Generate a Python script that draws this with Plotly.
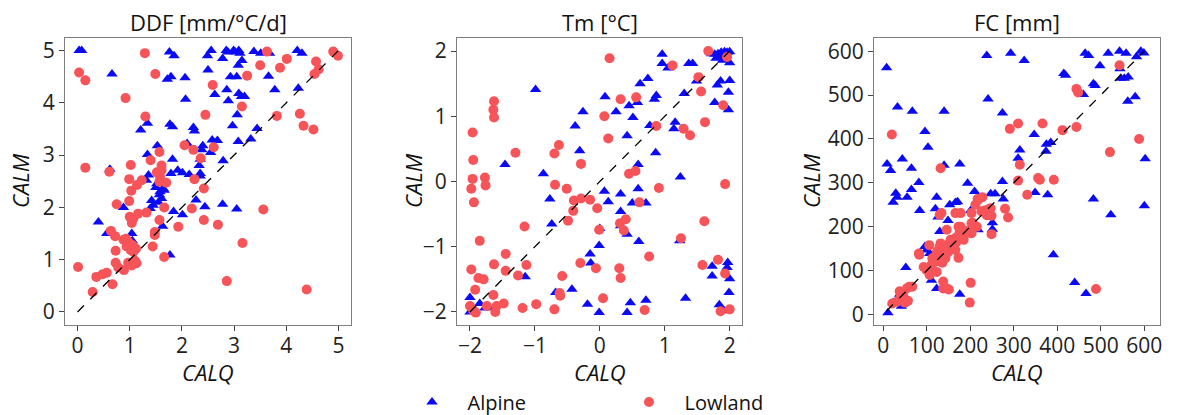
import plotly.graph_objects as go

# ---------------- data ----------------
ddf_alp_x = [0.03,0.08,0.66,1.76,1.85,1.72,1.79,2.06,2.07,1.21,1.34,1.77,1.82,2.22,2.24,1.53,1.34,1.82,2.10,2.40,2.38,2.58,2.68,2.55,2.35,2.79,1.36,1.79,1.92,2.01,2.14,2.33,2.35,2.35,0.62,2.49,2.56,2.50,2.78,2.85,2.88,2.99,3.02,3.09,3.11,3.08,3.15,2.93,3.05,2.86,2.89,3.09,3.14,3.20,2.63,3.06,2.97,3.08,3.32,3.44,3.38,3.51,3.68,3.66,3.78,4.21,4.30,4.23,
             0.40,0.56,0.88,1.04,1.05,1.42,1.45,1.39,1.50,1.57,1.64,1.58,1.66,1.61,1.84,2.01,1.63,1.77,2.27,2.44,2.78,3.05,1.32,1.52,1.55]
ddf_alp_y = [5.00,5.00,4.55,4.97,4.90,4.45,4.50,4.48,4.07,3.48,3.61,3.59,3.54,3.53,3.46,3.18,3.01,2.92,3.22,3.18,3.10,3.29,3.28,3.05,2.92,2.89,2.62,2.65,2.71,2.66,2.63,2.80,2.65,2.60,2.73,4.90,5.00,4.63,4.85,5.00,4.97,5.00,4.97,5.00,4.95,4.72,4.81,4.50,4.50,4.25,4.04,4.18,4.12,4.12,4.16,3.77,3.56,3.26,3.31,3.51,4.98,4.95,4.95,4.51,4.25,5.00,4.95,4.28,
             1.72,1.50,2.00,1.50,1.36,2.13,2.04,1.98,2.38,2.24,2.36,2.30,2.33,2.17,1.92,1.86,1.64,1.09,2.14,2.01,2.06,1.97,2.52,2.45,2.10]
ddf_low_x = [0.03,0.15,1.29,1.49,0.92,1.30,0.15,0.61,1.02,0.99,1.03,1.14,1.23,1.40,1.57,1.61,1.61,1.52,1.58,1.57,1.70,2.24,2.42,2.05,2.22,2.36,2.45,2.59,2.61,3.15,3.25,3.50,3.63,3.88,4.01,3.82,4.26,4.33,4.52,4.54,4.57,4.62,4.90,4.99,
             0.01,0.36,0.48,0.56,0.29,0.67,0.64,0.72,0.75,0.73,0.73,0.78,0.89,0.93,0.97,0.94,1.02,0.97,1.04,1.13,1.12,1.07,1.00,1.04,1.07,1.16,1.32,0.99,1.44,1.48,1.48,1.57,1.66,1.66,1.93,2.19,2.42,2.69,3.16,2.86,3.56,4.39,0.88,1.05,1.10]
ddf_low_y = [4.58,4.43,4.95,4.55,4.09,3.74,2.76,2.68,2.81,2.54,2.32,2.43,2.52,2.90,3.06,2.80,2.71,2.67,2.59,2.49,2.47,2.54,2.36,3.19,3.10,2.94,3.77,4.34,3.15,3.93,4.52,4.72,4.98,4.67,4.84,3.75,3.79,3.56,3.49,4.55,4.79,4.64,4.98,4.90,
             0.86,0.67,0.72,0.75,0.38,0.53,1.55,1.45,2.06,1.17,0.94,0.85,0.80,1.40,1.34,1.25,1.18,0.94,0.89,0.93,1.21,1.15,1.82,1.70,1.79,1.88,1.90,2.12,1.25,1.47,1.53,1.76,2.00,1.05,1.63,1.98,1.76,1.67,1.32,0.59,1.96,0.43,1.38,1.28,0.98]

tm_alp_x = [-0.99,-1.46,-0.87,-0.38,-0.31,-0.26,0.08,0.25,0.45,0.51,0.42,0.58,0.62,0.74,0.77,0.59,0.86,0.84,0.87,0.96,0.96,1.05,1.16,1.14,1.24,1.30,1.37,1.43,1.49,1.72,1.77,1.82,1.87,1.92,1.96,2.00,1.79,1.89,2.00,2.00,1.98,1.98,1.81,1.86,1.77,1.85,1.94,
            0.07,0.13,0.32,0.59,0.50,0.71,-0.77,-0.74,0.32,0.32,0.42,0.00,-0.01,-0.15,-0.14,0.60,1.23,-1.15,-0.68,-0.43,-0.19,-0.01,0.42,0.47,0.71,1.32,-2.00,-1.85,-1.77,-1.71,-2.00,1.73,1.73,1.84,1.91,1.97,1.96,2.00,1.99]
tm_alp_y = [1.41,0.26,0.12,0.85,0.47,1.07,1.30,1.07,1.16,0.98,0.70,1.21,1.50,1.58,0.86,0.26,0.44,1.26,1.32,1.95,1.81,1.74,0.91,0.81,0.07,1.35,1.81,1.81,1.54,1.96,1.95,1.96,1.98,1.99,1.98,1.99,1.89,1.86,1.82,1.55,1.37,1.10,1.48,1.54,1.21,1.93,1.92,
            -0.15,-0.31,-0.19,-0.11,-0.33,-0.33,-0.27,-0.65,-0.46,-0.68,-0.81,-0.72,-0.98,-1.11,-1.25,-0.92,-0.91,-1.46,-1.70,-1.65,-1.88,-2.01,-2.01,-1.86,-1.82,-1.79,-1.78,-1.87,-1.94,-1.93,-2.00,-1.30,-1.45,-1.89,-1.98,-1.24,-1.32,-1.49,-1.70]
tm_low_x = [-1.96,-1.95,-1.96,-1.98,-1.63,-1.64,-1.63,-1.77,-1.76,-1.30,-0.70,-0.63,-0.69,-0.51,-0.29,0.15,0.07,0.13,0.32,0.56,0.45,0.55,0.91,0.87,1.12,1.29,1.39,1.62,1.52,1.56,1.67,1.96,1.90,1.93,
            -1.94,-1.85,-1.98,-1.92,-1.87,-1.79,-1.63,-1.64,-1.45,-1.45,-1.48,-1.59,-1.61,-1.74,-2.00,-1.95,-1.91,-1.26,-1.16,-1.13,-1.19,-0.98,-0.70,-0.61,-0.62,-0.58,-0.49,-0.41,-0.40,-0.29,-0.15,-0.04,-0.01,-0.30,-0.06,0.05,0.30,0.32,0.31,0.40,0.37,0.61,0.76,0.69,1.61,1.25,1.58,1.82,1.93,1.86,2.00]
tm_low_y = [0.75,0.33,0.04,-0.11,1.23,1.10,0.98,0.06,-0.06,0.44,0.43,0.56,-0.05,-0.11,0.27,1.89,1.00,0.66,1.26,1.29,0.12,0.16,-0.10,0.85,1.78,0.81,0.71,0.91,1.60,1.38,2.00,1.91,1.17,-0.04,
            -0.32,-0.91,-1.35,-1.66,-1.48,-1.50,-1.27,-1.74,-1.11,-1.37,-1.87,-1.91,-2.00,-1.91,-1.91,-1.98,-2.01,-1.44,-0.69,-1.28,-1.94,-1.88,-1.96,-1.75,-1.71,-1.45,-0.60,-0.45,-0.29,-0.26,-0.28,-0.41,-0.74,-1.25,-1.33,-1.79,-1.33,-1.48,-0.64,-0.58,-0.75,-0.32,-1.15,-1.97,-0.61,-0.87,-1.28,-1.20,-1.41,-1.99,-1.96]

fc_alp_x = [8,9,17,33,44,67,65,96,103,82,140,140,176,238,241,293,324,274,314,310,347,375,385,374,415,419,460,464,472,483,487,498,517,543,558,544,546,554,563,562,579,582,592,599,602,
            29,32,23,55,65,84,123,120,126,130,153,166,171,149,194,210,201,247,257,276,274,251,251,218,96,100,107,111,123,52,38,23,11,42,176,349,378,391,440,466,483,523,600]
fc_alp_y = [562,343,328,473,354,463,333,417,381,301,463,340,343,590,491,595,579,459,375,356,410,388,392,372,549,545,501,595,590,526,522,567,595,600,595,560,538,538,541,486,496,587,600,596,355,
            276,267,256,267,285,237,267,241,222,189,250,255,257,214,299,280,237,275,275,263,303,209,194,193,155,147,139,78,59,107,46,27,4,19,46,278,273,136,73,48,263,227,248]
fc_low_x = [20,132,291,310,366,314,310,356,392,412,444,448,444,521,543,588,331,217,228,
            38,46,57,50,32,21,60,67,83,106,100,107,123,115,113,126,136,130,134,138,146,138,146,153,161,166,169,173,173,166,178,180,203,203,203,215,218,226,234,241,249,238,249,280,287,360,489,201,199,146,130,123,93,105,82,132,140,124,136,143,150,166,155,212,247,243,205,212,200,178,151,55,40,185,190,120,158,175,110,145]
fc_low_y = [410,333,423,435,435,341,305,311,307,420,514,506,427,370,568,400,273,263,267,
            53,44,31,27,29,25,63,63,136,158,101,90,97,118,128,132,118,227,231,75,59,59,158,147,162,174,166,129,200,231,231,181,231,208,185,200,261,235,237,239,225,226,183,241,221,307,58,72,27,193,155,139,108,100,139,162,147,144,136,128,143,147,170,250,242,227,209,201,186,200,57,60,40,170,190,120,155,185,112,138]

panel_titles = ["DDF [mm/°C/d]", "Tm [°C]", "FC [mm]"]
line_ends = [(0, 5), (-2, 2), (8, 600)]
x_ranges = [(-0.24, 5.24), (-2.2, 2.19), (-21, 636)]
y_ranges = [(-0.25, 5.24), (-2.2, 2.2), (-24, 630)]
tick_vals = [[0, 1, 2, 3, 4, 5], [-2, -1, 0, 1, 2], [0, 100, 200, 300, 400, 500, 600]]

# ---------------- figure ----------------
W, H = 1181, 415
BLUE = "#0a0af5"
RED = "#f7545a"
FONT = "Open Sans"

panels = [
    (ddf_alp_x, ddf_alp_y, ddf_low_x, ddf_low_y),
    (tm_alp_x, tm_alp_y, tm_low_x, tm_low_y),
    (fc_alp_x, fc_alp_y, fc_low_x, fc_low_y),
]
x_px = [(65, 351), (457, 742), (874, 1160)]
y_px = (38, 325)

fig = go.Figure()
for i, (ax_, ay_, lx_, ly_) in enumerate(panels):
    xa = "x" if i == 0 else f"x{i+1}"
    ya = "y" if i == 0 else f"y{i+1}"
    fig.add_trace(go.Scatter(x=ax_, y=ay_, mode="markers", xaxis=xa, yaxis=ya,
                             name="\u00a0\u00a0\u00a0Alpine", legendgroup="a", showlegend=(i == 0),
                             marker=dict(symbol="triangle-up", size=10, color=BLUE, line=dict(width=0))))
    fig.add_trace(go.Scatter(x=lx_, y=ly_, mode="markers", xaxis=xa, yaxis=ya,
                             name="\u00a0\u00a0\u00a0Lowland", legendgroup="l", showlegend=(i == 0),
                             marker=dict(symbol="circle", size=10, color=RED, line=dict(width=0))))
    a, b = line_ends[i]
    fig.add_trace(go.Scatter(x=[a, b], y=[a, b], mode="lines", xaxis=xa, yaxis=ya, showlegend=False,
                             line=dict(color="black", width=1.3, dash="dash"), hoverinfo="skip"))

axis_common = dict(showgrid=False, zeroline=False, showline=True, mirror=True, linecolor="#7f7f7f",
                   linewidth=1, ticks="outside", ticklen=5, tickcolor="#444", tickwidth=1,
                   tickfont=dict(family=FONT, size=21, color="#222"), automargin=False)
layout = dict(width=W, height=H, margin=dict(l=0, r=0, t=0, b=0, autoexpand=False),
              paper_bgcolor="white", plot_bgcolor="white", font=dict(family=FONT, color="#222"))
for i in range(3):
    sx = "" if i == 0 else str(i + 1)
    x0, x1 = x_px[i]
    layout["xaxis" + sx] = dict(axis_common, domain=[x0 / W, x1 / W], range=list(x_ranges[i]),
                                tickvals=tick_vals[i], anchor="y" + sx, ticklabelstandoff=-3)
    layout["yaxis" + sx] = dict(axis_common, domain=[1 - y_px[1] / H, 1 - y_px[0] / H], range=list(y_ranges[i]),
                                tickvals=tick_vals[i], anchor="x" + sx)
fig.update_layout(**layout)

ann = []
ytitle_x = [20, 413, 811]
for i in range(3):
    x0, x1 = x_px[i]
    cx = (x0 + x1) / 2
    ann.append(dict(text=panel_titles[i], x=cx / W, y=1 - 22 / H, xref="paper", yref="paper",
                    xanchor="center", yanchor="middle",
                    showarrow=False, font=dict(family=FONT, size=22, color="#111")))
    ann.append(dict(text="<i>CALQ</i>", x=cx / W, y=1 - 372 / H, xref="paper", yref="paper",
                    xanchor="center", yanchor="middle",
                    showarrow=False, font=dict(family=FONT, size=22, color="#111")))
    ann.append(dict(text="<i>CALM</i>", x=ytitle_x[i] / W, y=1 - 181 / H, xref="paper", yref="paper",
                    xanchor="center", yanchor="middle",
                    showarrow=False, textangle=-90, font=dict(family=FONT, size=22, color="#111")))
fig.update_layout(annotations=ann)

fig.update_layout(legend=dict(orientation="h", x=(442 - 30) / W, xanchor="left", y=1 - 402 / H, yanchor="middle",
                              font=dict(family=FONT, size=20, color="#111"), entrywidth=217 - 45,
                              entrywidthmode="pixels", bgcolor="rgba(0,0,0,0)"))

fig.write_html("out.html", config={"displayModeBar": False},
               post_script="document.body.style.margin='0';document.body.style.overflow='hidden';")
